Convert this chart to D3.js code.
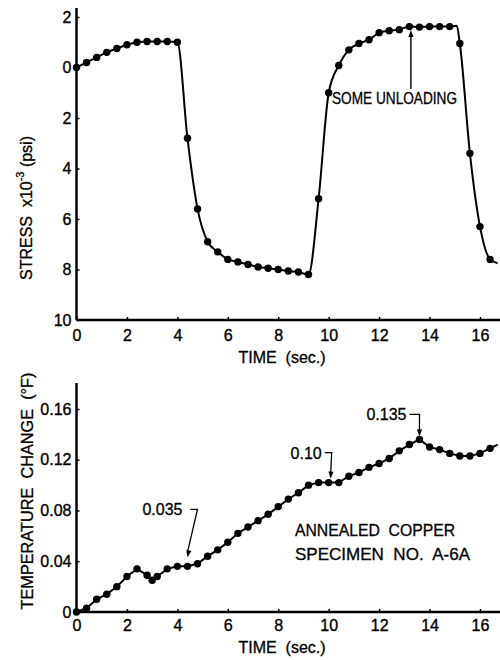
<!DOCTYPE html>
<html>
<head>
<meta charset="utf-8">
<script src="https://cdn.jsdelivr.net/npm/d3@7"></script>
<style>
    html, body { margin: 0; padding: 0; background: #fff; }
    svg { display: block; font-family: 'Liberation Sans', Arial, sans-serif; }
    .axis text { font-size: 16px; fill: #000; stroke: #000; stroke-width: 0.35px; }
    .axis line { stroke: #000; stroke-width: 1.5px; }
    .frame { stroke: #000; stroke-width: 2.5px; }
    .trace { fill: none; stroke: #000; stroke-width: 2px; }
    .label { font-size: 16px; fill: #000; stroke: #000; stroke-width: 0.3px; white-space: pre; }
</style>
</head>
<body>
<svg id="chart" width="500" height="660"></svg>
<script>
var timeTicks = [0, 2, 4, 6, 8, 10, 12, 14, 16];
var stressTicks = [-2, 0, 2, 4, 6, 8, 10];
var tempTicks = [0, 0.04, 0.08, 0.12, 0.16];
var tempTickLabels = ['0', '0.04', '0.08', '0.12', '0.16'];

// stress record (x10^-3 psi, axis drawn with 0 near top, load grows downward)
var stressTime = [0, 0.4, 0.8, 1.2, 1.6, 2.0, 2.4, 2.8, 3.2, 3.6, 4.0, 4.4, 4.8, 5.2,
    5.6, 6.0, 6.4, 6.8, 7.2, 7.6, 8.0, 8.4, 8.8, 9.2, 9.6, 10.0, 10.4, 10.8, 11.2,
    11.6, 12.0, 12.4, 12.8, 13.2, 13.6, 14.0, 14.4, 14.8, 15.2, 15.6, 16.0, 16.4];
var stressValue = [0, -0.2, -0.4, -0.6, -0.75, -0.9, -1.0, -1.03, -1.03, -1.03, -1.0, 2.8, 5.6, 6.9,
    7.3, 7.6, 7.7, 7.8, 7.9, 7.95, 8.0, 8.06, 8.1, 8.2, 5.2, 1.0, -0.08, -0.7, -0.95,
    -1.1, -1.38, -1.46, -1.5, -1.62, -1.6, -1.62, -1.62, -1.62, -0.95, 3.4, 6.3, 7.6];
// trace vertices without a measured dot (corner before unloading, end of trace)
var stressBendTime = [15.08, 16.7];
var stressBendValue = [-1.65, 7.75];

// temperature change (deg F)
var tempTime = [0, 0.4, 0.8, 1.2, 1.6, 2.0, 2.4, 2.8, 3.0, 3.2, 3.6, 4.0, 4.4, 4.8, 5.2,
    5.6, 6.0, 6.4, 6.8, 7.2, 7.6, 8.0, 8.4, 8.8, 9.2, 9.6, 10.0, 10.4, 10.8, 11.2,
    11.6, 12.0, 12.4, 12.8, 13.2, 13.6, 14.0, 14.4, 14.8, 15.2, 15.6, 16.0, 16.4];
var tempValue = [0, 0.003, 0.010, 0.014, 0.020, 0.028, 0.034, 0.029, 0.025, 0.028, 0.034, 0.036, 0.036, 0.038, 0.044,
    0.049, 0.055, 0.062, 0.067, 0.072, 0.077, 0.083, 0.089, 0.094, 0.100, 0.102, 0.102, 0.102, 0.107, 0.110,
    0.114, 0.117, 0.121, 0.127, 0.132, 0.136, 0.130, 0.128, 0.125, 0.123, 0.123, 0.125, 0.129];
var tempBendTime = [16.7];
var tempBendValue = [0.132];

var tempNoteLabel = ['0.035', '0.10', '0.135'];
var tempNoteTime = [4.4, 10.0, 13.6];
var tempNoteValue = [0.036, 0.102, 0.136];

(function () {
    'use strict';

    var svg = d3.select('#chart');

    var x = d3.scaleLinear().domain([0, 16]).range([76.5, 480]);
    var yStress = d3.scaleLinear().domain([-2, 10]).range([17, 320]);
    var yTemp = d3.scaleLinear().domain([0, 0.16]).range([612, 409]);
    var xRight = 500;

    function pairs(t, v) {
        return t.map(function (d, i) { return [d, v[i]]; });
    }

    function arrowHead(g, x0, y0, x1, y1) {
        var a = Math.atan2(y1 - y0, x1 - x0);
        var len = 7, w = 2.6;
        var bx = x1 - len * Math.cos(a), by = y1 - len * Math.sin(a);
        var px = -Math.sin(a) * w, py = Math.cos(a) * w;
        g.append('path')
            .attr('d', 'M' + x1 + ',' + y1 + 'L' + (bx + px) + ',' + (by + py) + 'L' + (bx - px) + ',' + (by - py) + 'Z')
            .attr('fill', '#000');
    }

    function axes(y, yTicks, yFormat, baseY, topY, xPad) {
        var g = svg.append('g');

        g.append('g')
            .attr('class', 'axis')
            .attr('transform', 'translate(0,' + baseY + ')')
            .call(d3.axisBottom(x).tickValues(timeTicks).tickSizeInner(-3).tickSizeOuter(0)
                .tickPadding(xPad).tickFormat(d3.format('d')))
            .call(function (a) { a.select('.domain').remove(); });

        g.append('g')
            .attr('class', 'axis')
            .attr('transform', 'translate(' + x(0) + ',0)')
            .call(d3.axisLeft(y).tickValues(yTicks).tickSizeInner(-3).tickSizeOuter(0)
                .tickPadding(5).tickFormat(yFormat))
            .call(function (a) { a.select('.domain').remove(); });

        g.append('line').attr('class', 'frame')
            .attr('x1', x(0)).attr('x2', xRight).attr('y1', baseY).attr('y2', baseY);
        g.append('line').attr('class', 'frame')
            .attr('x1', x(0)).attr('x2', x(0)).attr('y1', topY).attr('y2', baseY);

        g.append('text')
            .attr('class', 'label')
            .attr('x', x(8.15)).attr('y', baseY + xPad + 33)
            .attr('text-anchor', 'middle')
            .text('TIME  (sec.)');
    }

    function trace(y, dots, bends, curve) {
        var all = dots.concat(bends).sort(function (a, b) { return a[0] - b[0]; });
        var line = d3.line()
            .x(function (d) { return x(d[0]); })
            .y(function (d) { return y(d[1]); })
            .curve(curve);

        svg.append('path').attr('class', 'trace').attr('d', line(all));

        svg.append('g').selectAll('circle')
            .data(dots)
            .enter().append('circle')
            .attr('cx', function (d) { return x(d[0]); })
            .attr('cy', function (d) { return y(d[1]); })
            .attr('r', 3.7)
            .attr('fill', '#000');
    }

    // ---- upper panel: stress
    axes(yStress, stressTicks, function (d) { return Math.abs(d); }, 320, 8, 10);
    trace(yStress, pairs(stressTime, stressValue), pairs(stressBendTime, stressBendValue), d3.curveMonotoneX);

    var ylab = svg.append('text')
        .attr('class', 'label')
        .attr('transform', 'translate(32,208) rotate(-90)')
        .attr('text-anchor', 'middle');
    ylab.append('tspan').text('STRESS  x10');
    ylab.append('tspan').attr('dy', -8).style('font-size', '11px').text('-3');
    ylab.append('tspan').attr('dy', 8).text(' (psi)');

    var ann = svg.append('g');
    ann.append('text')
        .attr('class', 'label')
        .attr('x', 332).attr('y', 104)
        .attr('textLength', 125).attr('lengthAdjust', 'spacingAndGlyphs')
        .style('font-size', '16.5px')
        .text('SOME UNLOADING');
    var ax = x(13.26);
    ann.append('line').attr('x1', ax).attr('x2', ax).attr('y1', 89).attr('y2', 36)
        .attr('stroke', '#000').attr('stroke-width', 1.4);
    arrowHead(ann, ax, 89, ax, 30);

    // ---- lower panel: temperature
    axes(yTemp, tempTicks, function (d, i) { return tempTickLabels[i]; }, 612, 383, 8);
    trace(yTemp, pairs(tempTime, tempValue), pairs(tempBendTime, tempBendValue), d3.curveLinear);

    svg.append('text')
        .attr('class', 'label')
        .attr('transform', 'translate(33,491) rotate(-90)')
        .attr('text-anchor', 'middle')
        .attr('textLength', 237).attr('lengthAdjust', 'spacingAndGlyphs')
        .text('TEMPERATURE  CHANGE  (°F)');

    svg.append('text')
        .attr('class', 'label')
        .attr('x', 295).attr('y', 536)
        .attr('textLength', 160).attr('lengthAdjust', 'spacingAndGlyphs')
        .style('font-size', '17px')
        .text('ANNEALED  COPPER');
    svg.append('text')
        .attr('class', 'label')
        .attr('x', 295).attr('y', 560)
        .attr('textLength', 175).attr('lengthAdjust', 'spacingAndGlyphs')
        .style('font-size', '17px')
        .text('SPECIMEN  NO.  A-6A');

    // hooked call-outs: [tip dx, gap above dot, corner dx, rise, stub, text gap]
    var hooks = [[0, 9, 10, 48, 7, 8], [2, 4, 3, 26, 7, 3], [0, 3, 0, 22, 10, 3]];
    tempNoteLabel.forEach(function (label, i) {
        var h = hooks[i];
        var tx = x(tempNoteTime[i]) + h[0];
        var ty = yTemp(tempNoteValue[i]) - h[1];
        var cx = tx + h[2] - h[0], cy = ty - h[3];
        var sx = cx - h[4];
        var g = svg.append('g');
        g.append('path')
            .attr('d', 'M' + sx + ',' + cy + 'L' + cx + ',' + cy + 'L' + tx + ',' + (ty - 5))
            .attr('fill', 'none').attr('stroke', '#000').attr('stroke-width', 1.3);
        arrowHead(g, cx, cy, tx, ty);
        g.append('text')
            .attr('class', 'label')
            .attr('x', sx - h[5]).attr('y', cy + 6)
            .attr('text-anchor', 'end')
            .text(label);
    });
}());
</script>
</body>
</html>
